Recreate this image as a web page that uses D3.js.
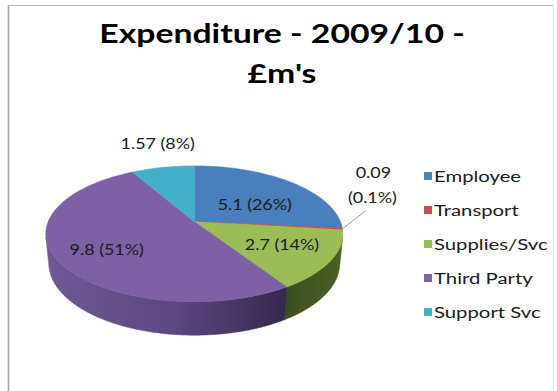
<!DOCTYPE html>
<html>
<head>
<meta charset="utf-8">
<script src="https://cdn.jsdelivr.net/npm/d3@7/dist/d3.min.js"></script>
<style>
  body { margin: 0; background: #fff; }
  svg { display: block; }
</style>
</head>
<body>
<script>
// ---- data ----
const categories    = ["Employee", "Transport", "Supplies/Svc", "Third Party", "Support Svc"];
const values        = [5.1, 0.09, 2.7, 9.8, 1.57];
const valueLabels   = ["5.1", "0.09", "2.7", "9.8", "1.57"];
const percentLabels = ["26%", "0.1%", "14%", "51%", "8%"];
const titleLines    = ["Expenditure - 2009/10 -", "£m's"];

// ---- styling ----
const W = 557, H = 391;
const topColors    = ["#4a7ebc", "#c0504d", "#9bbd55", "#7e60a4", "#45aec9"];
const sideLight    = ["#3b6597", "#9a3f3c", "#4b6128", "#6f5896", "#3a8ea6"];
const sideDark     = ["#2c4b72", "#7a2f2d", "#3a4b1c", "#36284e", "#2b6b7e"];
const legendColors = ["#4f81bd", "#c0504d", "#9bbb59", "#8064a2", "#4bacc6"];
const FONT = "Lato, 'Open Sans', sans-serif";

const svg = d3.select("body").append("svg")
  .attr("width", W).attr("height", H);

svg.append("rect").attr("width", W).attr("height", H).attr("fill", "#fff");

// chart frame: darker on the left/top, faint on the right
svg.append("line").attr("x1", 8.5).attr("x2", 8.5).attr("y1", 5).attr("y2", H)
  .attr("stroke", "#a4a4a4").attr("stroke-width", 1.6);
svg.append("line").attr("x1", 8).attr("x2", 553).attr("y1", 5.5).attr("y2", 5.5)
  .attr("stroke", "#b4b4b4").attr("stroke-width", 1.2);
svg.append("line").attr("x1", 553.5).attr("x2", 553.5).attr("y1", 5).attr("y2", H)
  .attr("stroke", "#e6e6e6").attr("stroke-width", 1);

const defs = svg.append("defs");

// ---- perspective projection of a tilted disc ----
const cam = { cx: 194.3, cy: 221.7, F: 731.8, D: 5.008, tilt: Math.asin(0.4499), thick: 0.2285 };
const cT = Math.cos(cam.tilt), sT = Math.sin(cam.tilt);
function project(x, y, z) {
  const dep = -y * sT + z * cT + cam.D;
  return [cam.cx + cam.F * x / dep, cam.cy - cam.F * (y * cT + z * sT) / dep];
}
// point on the rim: angle measured clockwise from the back of the disc
const rim = (a, y, r = 1) => project(r * Math.sin(a), y, r * Math.cos(a));

function arcPoints(a0, a1, y) {
  const n = Math.max(2, Math.ceil(Math.abs(a1 - a0) / (Math.PI / 360)));
  return d3.range(n + 1).map(i => rim(a0 + (a1 - a0) * i / n, y));
}

const arcs = d3.pie().sort(null).value(d => d)(values);
const line = d3.line().curve(d3.curveLinearClosed);

// visible stretch of the outer wall (normal faces the camera)
const visA = Math.acos(-1 / (cam.D * cT));
const visB = 2 * Math.PI - visA;

const pieG = svg.append("g");

// outer walls
arcs.forEach((d, i) => {
  const a0 = Math.max(d.startAngle, visA), a1 = Math.min(d.endAngle, visB);
  if (a1 <= a0) return;
  const gid = "side" + i;
  const g = defs.append("linearGradient").attr("id", gid)
    .attr("gradientUnits", "userSpaceOnUse")
    .attr("x1", cam.cx - 150).attr("x2", cam.cx + 150).attr("y1", 0).attr("y2", 0);
  if (i === 3) {
    g.append("stop").attr("offset", 0).attr("stop-color", sideLight[i]);
    g.append("stop").attr("offset", 0.45).attr("stop-color", "#5a4680");
    g.append("stop").attr("offset", 0.8).attr("stop-color", sideDark[i]);
  } else if (i === 2) {
    g.append("stop").attr("offset", 0.78).attr("stop-color", sideDark[i]);
    g.append("stop").attr("offset", 1).attr("stop-color", sideLight[i]);
  } else {
    g.append("stop").attr("offset", 0).attr("stop-color", sideLight[i]);
    g.append("stop").attr("offset", 1).attr("stop-color", sideDark[i]);
  }
  const pts = arcPoints(a0, a1, 0).concat(arcPoints(a1, a0, -cam.thick));
  pieG.append("path").attr("d", line(pts)).attr("fill", `url(#${gid})`)
    .attr("stroke", `url(#${gid})`).attr("stroke-width", 0.6);
});

// top faces
arcs.forEach((d, i) => {
  const pts = [project(0, 0, 0)].concat(arcPoints(d.startAngle, d.endAngle, 0));
  pieG.append("path").attr("d", line(pts)).attr("fill", topColors[i])
    .attr("stroke", topColors[i]).attr("stroke-width", 0.6);
});

// ---- text helper (text is drawn slightly widened) ----
function addText(parent, str, x, y, opts) {
  return parent.append("text")
    .attr("transform", `translate(${x},${y}) scale(${opts.k},1)`)
    .attr("text-anchor", opts.anchor || "middle")
    .attr("font-family", FONT)
    .attr("font-size", opts.size)
    .attr("font-weight", opts.weight || "normal")
    .attr("fill", opts.fill || "#1b1b1b")
    .text(str);
}

// ---- data labels ----
// inside labels sit near 60% of the radius, with small per-slice nudges
const insideNudge = [[0, 13], null, [9, 6], [-8, 12], null];
const labelG = svg.append("g");
const lab = { size: 16, k: 1.12 };
arcs.forEach((d, i) => {
  const mid = (d.startAngle + d.endAngle) / 2;
  const txt = `${valueLabels[i]} (${percentLabels[i]})`;
  if (i === 1) {
    // tiny slice: label outside with a leader line
    const e = rim(mid, 0);
    const end = [e[0] + 23, e[1] - 18];
    labelG.append("line")
      .attr("x1", e[0]).attr("y1", e[1]).attr("x2", end[0]).attr("y2", end[1])
      .attr("stroke", "#8a9aa8").attr("stroke-width", 1);
    addText(labelG, valueLabels[i], end[0] + 8, end[1] - 33, lab);
    addText(labelG, `(${percentLabels[i]})`, end[0] + 7, end[1] - 8, lab);
  } else if (i === 4) {
    const e = rim(mid, 0);
    addText(labelG, txt, e[0] - 5, e[1] - 18, lab);
  } else {
    const c = rim(mid, 0, 0.6);
    const n = insideNudge[i];
    addText(labelG, txt, c[0] + n[0], c[1] + n[1], lab);
  }
});

// ---- title ----
addText(svg, titleLines[0], 282, 43, { size: 27, k: 1.25, weight: "bold", fill: "#000" });
addText(svg, titleLines[1], 282, 83, { size: 27, k: 1.25, weight: "bold", fill: "#000" });

// ---- legend ----
const legY = d3.scalePoint().domain(categories).range([176, 312]);
const legG = svg.append("g");
categories.forEach((c, i) => {
  legG.append("rect").attr("x", 424).attr("y", legY(c) - 4).attr("width", 8).attr("height", 8)
    .attr("fill", legendColors[i]);
  addText(legG, c, 434, legY(c) + 6, { size: 16, k: 1.27, anchor: "start" });
});
</script>
</body>
</html>
